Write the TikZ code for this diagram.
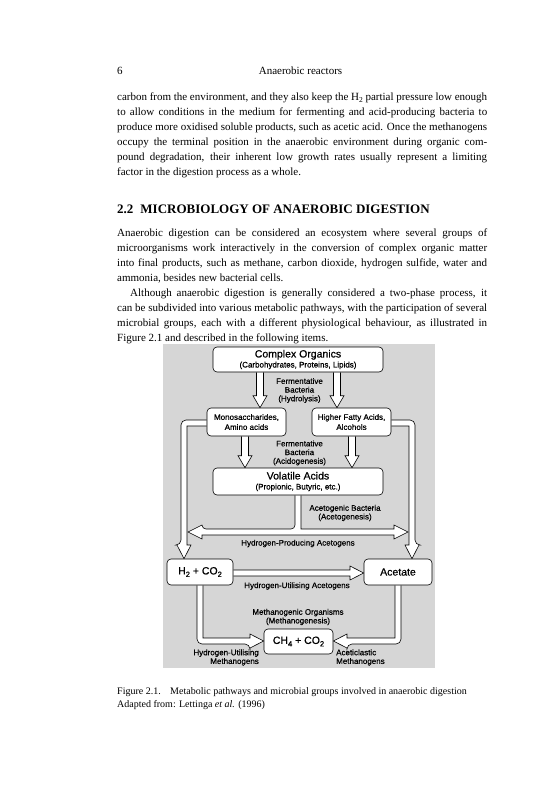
\documentclass[tikz,border=0pt]{standalone}
\usepackage{fontspec}
\setmainfont{Liberation Serif}
\newfontfamily\diagfont{Liberation Sans}[FakeBold=0.6]
\usetikzlibrary{calc}
\pgfdeclarelayer{back}
\pgfdeclarelayer{mid}
\pgfsetlayers{back,mid,main}
\definecolor{bggray}{RGB}{214,214,214}
\newcommand\JL[1]{\hbox to 370pt{#1}}
\newcommand\NL[1]{\hbox{#1}}
\newcommand\lowsub[2]{\raisebox{-#2}{#1}}
\newcommand\vdarrow[3]{%
  \coordinate (va) at (#1,0 |- #2.south);
  \coordinate (vb) at (#1,0 |- #3.north);
  \filldraw[hol] ($(va)+(-3.5,0)$) -- ($(vb)+(-3.5,-12)$) -- ($(vb)+(-7,-12)$) -- (vb)
    -- ($(vb)+(7,-12)$) -- ($(vb)+(3.5,-12)$) -- ($(va)+(3.5,0)$);}
\begin{document}
\begin{tikzpicture}[x=1pt,y=-1pt,
  box/.style={draw=black,line width=0.6pt,fill=white,rounded corners=4pt,inner sep=0pt,
    align=center,font=\diagfont\fontsize{8}{10}\selectfont},
  lab/.style={inner sep=0pt,align=center,font=\diagfont\fontsize{8}{8.7}\selectfont},
  hol/.style={draw=black,line width=0.6pt,fill=white,line join=miter},
  body/.style={inner sep=0pt,anchor=base west,font=\fontsize{11}{15}\selectfont},
  big/.style={font=\diagfont\fontsize{10.5}{11}\selectfont}]
\useasboundingbox (0,0) rectangle (552,800);
\begin{pgfonlayer}{back}
  \fill[white] (0,0) rectangle (552,800);
  \fill[bggray] (163,344) rectangle (435,668);
\end{pgfonlayer}

% ---------- page text ----------
\node[body] (pgno) at (117,74.5) {6};
\node[body,anchor=base] (runhead) at (300.5,74.5) {Anaerobic reactors};

\node[body] (para1) at (117,100.5) {\vtop{\baselineskip=15pt
 \JL{carbon from the environment, and they also keep the H\lowsub{\fontsize{7.5}{8}\selectfont 2}{2pt} partial pressure low enough}
 \JL{to allow conditions in the medium for fermenting and acid-producing bacteria to}
 \JL{produce more oxidised soluble products, such as acetic acid. Once the methanogens}
 \JL{occupy the terminal position in the anaerobic environment during organic com-}
 \JL{pound degradation, their inherent low growth rates usually represent a limiting}
 \NL{factor in the digestion process as a whole.}}};

\node[body,font=\bfseries\fontsize{13}{15}\selectfont] (heading) at (117,213.5)
  {2.2\kern7pt MICROBIOLOGY OF ANAEROBIC DIGESTION};

\node[body] (para2) at (117,236.5) {\vtop{\baselineskip=15pt
 \JL{Anaerobic digestion can be considered an ecosystem where several groups of}
 \JL{microorganisms work interactively in the conversion of complex organic matter}
 \JL{into final products, such as methane, carbon dioxide, hydrogen sulfide, water and}
 \NL{ammonia, besides new bacterial cells.}
 \JL{\kern13pt Although anaerobic digestion is generally considered a two-phase process, it}
 \JL{can be subdivided into various metabolic pathways, with the participation of several}
 \JL{microbial groups, each with a different physiological behaviour, as illustrated in}
 \NL{Figure 2.1 and described in the following items.}}};

\node[body,font=\fontsize{10}{13}\selectfont] (caption) at (117,694.5) {\vtop{\baselineskip=13pt
 \NL{\hbox to 53pt{Figure 2.1.\hfil}Metabolic pathways and microbial groups involved in anaerobic digestion}
 \NL{Adapted from: Lettinga \textit{et al.} (1996)}}};

% ---------- diagram boxes ----------
\node[box,minimum width=170,minimum height=25] (CO) at (298,359.5)
  {{\diagfont\fontsize{10.5}{11}\selectfont Complex Organics}\\(Carbohydrates, Proteins, Lipids)};
\node[box,minimum width=79,minimum height=28] (MS) at (246.5,422) {Monosaccharides,\\Amino acids};
\node[box,minimum width=79,minimum height=28] (HF) at (351.5,422) {Higher Fatty Acids,\\Alcohols};
\node[box,minimum width=170,minimum height=27] (VA) at (298,481.5)
  {{\diagfont\fontsize{10.5}{11}\selectfont Volatile Acids}\\(Propionic, Butyric, etc.)};
\node[box,big,minimum width=66,minimum height=26] (H2) at (200,572)
  {H\lowsub{\fontsize{7.5}{8}\selectfont 2}{2.5pt} + CO\lowsub{\fontsize{7.5}{8}\selectfont 2}{2.5pt}};
\node[box,big,minimum width=68,minimum height=26] (AC) at (398,572) {Acetate};
\node[box,big,minimum width=69,minimum height=25] (CH) at (298.5,641.5)
  {CH\lowsub{\fontsize{7.5}{8}\selectfont 4}{2.5pt} + CO\lowsub{\fontsize{7.5}{8}\selectfont 2}{2.5pt}};

% ---------- labels ----------
\node[lab] (l1) at (299.5,390.5) {Fermentative\\Bacteria\\(Hydrolysis)};
\node[lab] (l2) at (299.5,453) {Fermentative\\Bacteria\\(Acidogenesis)};
\node[lab] (l3) at (345,513) {Acetogenic Bacteria\\(Acetogenesis)};
\node[lab] (l4) at (298,543.5) {Hydrogen-Producing Acetogens};
\node[lab] (l5) at (297,586) {Hydrogen-Utilising Acetogens};
\node[lab] (l6) at (298,617) {Methanogenic Organisms\\(Methanogenesis)};
\node[lab,align=right,anchor=east] (l7) at (259,657.5) {Hydrogen-Utilising\\Methanogens};
\node[lab,align=left,anchor=west] (l8) at (336,657.5) {Aceticlastic\\Methanogens};

% ---------- hollow arrows ----------
\begin{pgfonlayer}{mid}
  \vdarrow{260}{CO}{MS}
  \vdarrow{337}{CO}{HF}
  \vdarrow{245}{MS}{VA}
  \vdarrow{352}{HF}{VA}
  % left bracket
  \filldraw[hol] (MS.west |- 0,420) [rounded corners=5pt] -- (181,420) -- (181,545)
    [sharp corners] -- (177,545) -- (H2.north -| 184,0) -- (191,545) -- (187,545) -- (187,426)
    [rounded corners=2pt] -- (MS.west |- 0,426);
  % right bracket
  \filldraw[hol] (HF.east |- 0,420) [rounded corners=5pt] -- (415,420) -- (415,545)
    [sharp corners] -- (419,545) -- (AC.north -| 412,0) -- (405,545) -- (409,545) -- (409,426)
    [rounded corners=2pt] -- (HF.east |- 0,426);
  % T double arrow
  \filldraw[hol] (VA.south -| 295,0) [rounded corners=4pt] -- (295,529) -- (202,529)
    [sharp corners] -- (202,525) -- (188,532) -- (202,539) -- (202,535) -- (394,535)
    -- (394,539) -- (408,532) -- (394,525) -- (394,529) -- (301,529)
    [rounded corners=4pt] -- (VA.south -| 301,0);
  % H2 -> Acetate
  \filldraw[hol] (H2.east |- 0,570) -- (350,570) -- (350,566) -- (AC.west |- 0,573)
    -- (350,580) -- (350,576) -- (H2.east |- 0,576);
  % H2 -> CH4
  \filldraw[hol] (H2.south -| 197,0) [rounded corners=5pt] -- (197,644) -- (250,644)
    [sharp corners] -- (250,648) -- (CH.west |- 0,641) -- (250,634) -- (250,638) -- (203,638)
    [rounded corners=2pt] -- (H2.south -| 203,0);
  % Acetate -> CH4
  \filldraw[hol] (AC.south -| 401,0) [rounded corners=5pt] -- (401,644) -- (347,644)
    [sharp corners] -- (347,648) -- (CH.east |- 0,641) -- (347,634) -- (347,638) -- (395,638)
    [rounded corners=2pt] -- (AC.south -| 395,0);
\end{pgfonlayer}
\end{tikzpicture}
\end{document}
